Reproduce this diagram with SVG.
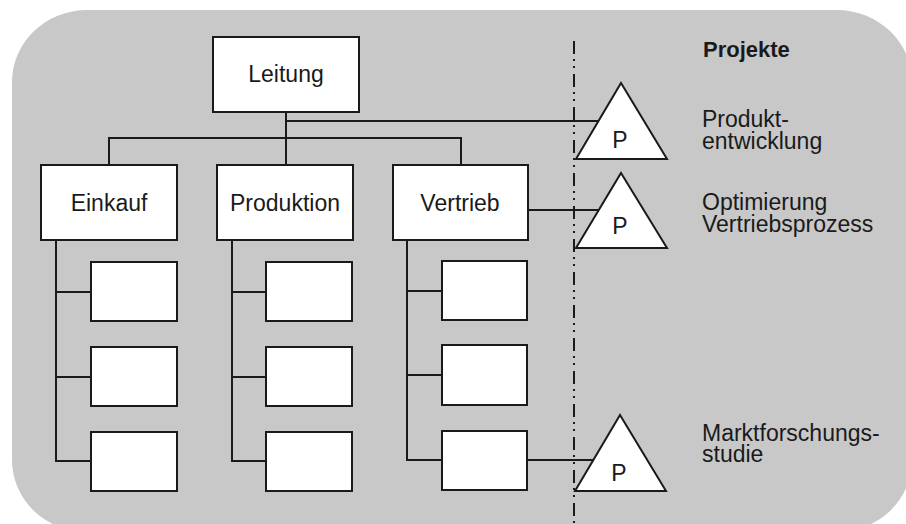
<svg xmlns="http://www.w3.org/2000/svg" width="906" height="524" viewBox="0 0 906 524">
<style>
.box{fill:#ffffff;stroke:#1a1a1a;stroke-width:2}
.tri{fill:#ffffff;stroke:#1a1a1a;stroke-width:2;stroke-linejoin:miter}
.ln{fill:none;stroke:#1a1a1a;stroke-width:2}
.t{font-family:"Liberation Sans",Arial,sans-serif;font-size:23px;fill:#1a1a1a}
.c{text-anchor:middle}
.b{font-weight:bold;font-size:22px}
</style>
<rect x="12" y="10" width="900" height="522" rx="75" ry="72" fill="#c8c8c8"/>
<line x1="574" y1="41" x2="574" y2="524" stroke="#1a1a1a" stroke-width="2" stroke-dasharray="13 5 2 5 2 6"/>
<g id="connectors">
<polyline class="ln" points="286,112 286,165"/>
<polyline class="ln" points="286,121 599,121"/>
<polyline class="ln" points="109,165 109,138 461,138 461,165"/>
<polyline class="ln" points="528,210 599,210"/>
<polyline class="ln" points="527,460 594,460"/>
<polyline class="ln" points="56,239 56,462"/>
<polyline class="ln" points="56,292 91,292"/>
<polyline class="ln" points="56,377 91,377"/>
<polyline class="ln" points="56,461 91,461"/>
<polyline class="ln" points="232,239 232,462"/>
<polyline class="ln" points="232,292 266,292"/>
<polyline class="ln" points="232,377 266,377"/>
<polyline class="ln" points="232,461 266,461"/>
<polyline class="ln" points="407,239 407,461"/>
<polyline class="ln" points="407,291 442,291"/>
<polyline class="ln" points="407,375 442,375"/>
<polyline class="ln" points="407,460 442,460"/>
</g>
<g id="leitung"><rect class="box" x="213" y="37" width="146" height="75"/><text class="t c" x="286" y="82">Leitung</text></g>
<g id="einkauf"><rect class="box" x="41" y="165" width="136" height="75"/><text class="t c" x="109" y="211">Einkauf</text></g>
<g id="produktion"><rect class="box" x="217" y="165" width="136" height="75"/><text class="t c" x="285" y="211">Produktion</text></g>
<g id="vertrieb"><rect class="box" x="393" y="165" width="135" height="75"/><text class="t c" x="460" y="211">Vertrieb</text></g>
<g id="e1"><rect class="box" x="91" y="262" width="86" height="59"/></g>
<g id="e2"><rect class="box" x="91" y="347" width="86" height="59"/></g>
<g id="e3"><rect class="box" x="91" y="432" width="86" height="59"/></g>
<g id="p1"><rect class="box" x="266" y="262" width="86" height="59"/></g>
<g id="p2"><rect class="box" x="266" y="347" width="86" height="59"/></g>
<g id="p3"><rect class="box" x="266" y="432" width="86" height="59"/></g>
<g id="v1"><rect class="box" x="442" y="261" width="85" height="59"/></g>
<g id="v2"><rect class="box" x="442" y="345" width="85" height="60"/></g>
<g id="v3"><rect class="box" x="442" y="431" width="85" height="59"/></g>
<g id="proj1"><polygon class="tri" points="621,83 667,159 576,159"/><text class="t c" x="620" y="148">P</text></g>
<g id="proj2"><polygon class="tri" points="621,173 667,248 576,248"/><text class="t c" x="620" y="234">P</text></g>
<g id="proj3"><polygon class="tri" points="620,415 666,491 575,491"/><text class="t c" x="619" y="481">P</text></g>
<g id="labels">
<text class="t b" x="703" y="57">Projekte</text>
<text class="t" x="702" y="127">Produkt-</text>
<text class="t" x="702" y="149">entwicklung</text>
<text class="t" x="702" y="210">Optimierung</text>
<text class="t" x="702" y="232">Vertriebsprozess</text>
<text class="t" x="702" y="441">Marktforschungs-</text>
<text class="t" x="702" y="462">studie</text>
</g>
</svg>
